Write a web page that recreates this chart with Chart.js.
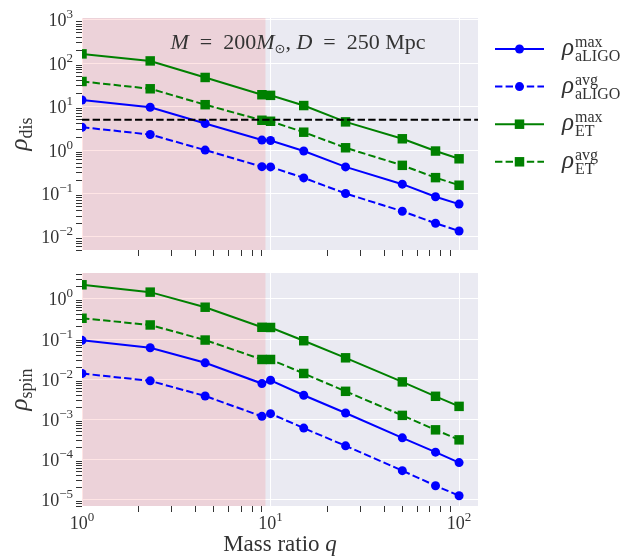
<!DOCTYPE html>
<html>
<head>
<meta charset="utf-8">
<script src="https://cdn.jsdelivr.net/npm/chart.js@4.4.0/dist/chart.umd.min.js"></script>
<style>
  body { margin: 0; background: #fff; }
  .panel { position: absolute; left: 0; }
</style>
</head>
<body>
<div class="panel" style="top:0"><canvas id="disChart" width="638" height="262"></canvas></div>
<div class="panel" style="top:262px"><canvas id="spinChart" width="638" height="297"></canvas></div>
<script>
// mass ratios and SNR values
const massRatio = [1, 2.3, 4.5, 9, 10, 15, 25, 50, 75, 100];

const disMaxLIGO = [14.2, 9.7, 4.1, 1.7, 1.66, 0.95, 0.41, 0.164, 0.084, 0.057];
const disAvgLIGO = [3.36, 2.28, 1.0, 0.415, 0.41, 0.229, 0.1, 0.039, 0.0206, 0.0137];
const disMaxET = [164, 113, 47, 18.8, 18.2, 10.6, 4.46, 1.82, 0.95, 0.63];
const disAvgET = [38, 25.8, 11.1, 4.86, 4.61, 2.58, 1.13, 0.445, 0.232, 0.155];

const spinMaxLIGO = [0.0927, 0.0607, 0.0256, 0.0078, 0.0094, 0.004, 0.00144, 0.000348, 0.000153, 0.0000841];
const spinAvgLIGO = [0.0139, 0.0091, 0.00383, 0.00119, 0.00139, 0.000607, 0.00022, 0.0000531, 0.0000224, 0.0000126];
const spinMaxET = [2.24, 1.47, 0.619, 0.196, 0.194, 0.0908, 0.0341, 0.00858, 0.00376, 0.00211];
const spinAvgET = [0.329, 0.224, 0.0944, 0.031, 0.031, 0.0139, 0.005, 0.00126, 0.00055, 0.00031];

const snrThreshold = 5;
const shadeRange = [1, 9.4];
const xRange = [1, 126];
const disRange = [0.005, 1100];
const spinRange = [7e-6, 4.4];

const legendSup = ['max', 'avg', 'max', 'avg'];
const legendSub = ['aLIGO', 'aLIGO', 'ET', 'ET'];

const SERIF = '"Liberation Serif", "DejaVu Serif", serif';
const TEXT = '#333';
const BLUE = '#0000ff';
const GREEN = '#008000';
const DASH = [7.4, 3.2];

// log ticks 1..9 x 10^k inside the range
function logTicks(min, max) {
  const out = [];
  for (let e = Math.floor(Math.log10(min)); e <= Math.ceil(Math.log10(max)); e++) {
    for (let k = 1; k <= 9; k++) {
      const v = k * Math.pow(10, e);
      if (v >= min * 0.999 && v <= max * 1.001) out.push({value: v});
    }
  }
  return out;
}

function isMajor(v) {
  if (!v) return false;
  const l = Math.log10(v);
  return Math.abs(l - Math.round(l)) < 1e-9;
}

const gridOpts = {
  color: c => isMajor(c.tick && c.tick.value) ? '#ffffff' : 'rgba(0,0,0,0)',
  lineWidth: 1,
  drawTicks: true,
  tickLength: 6,
  tickWidth: 1,
  tickColor: c => isMajor(c.tick && c.tick.value) ? 'rgba(0,0,0,0)' : '#333'
};

// draw a run of text pieces with their own fonts / offsets
function drawRich(ctx, parts, x, y, align) {
  let w = 0;
  parts.forEach(p => {
    ctx.font = p.font;
    p.w = ctx.measureText(p.t).width;
    w += p.w;
  });
  let cx = align === 'right' ? x - w : align === 'center' ? x - w / 2 : x;
  ctx.textAlign = 'left';
  ctx.textBaseline = 'alphabetic';
  parts.forEach(p => {
    ctx.font = p.font;
    ctx.fillText(p.t, cx, y + (p.dy || 0));
    cx += p.w;
  });
}

function powerLabel(e) {
  const exp = e < 0 ? '\u2212' + (-e) : String(e);
  return [
    {t: '10', font: '18px ' + SERIF},
    {t: exp, font: '13px ' + SERIF, dy: -8}
  ];
}

function makeDatasets(maxL, avgL, maxE, avgE) {
  const pts = arr => massRatio.map((q, i) => ({x: q, y: arr[i]}));
  const common = {borderWidth: 2, pointBorderWidth: 0, tension: 0, clip: 0};
  return [
    {...common, data: pts(maxL), borderColor: BLUE, backgroundColor: BLUE, pointStyle: 'circle', pointRadius: 4.5},
    {...common, data: pts(avgL), borderColor: BLUE, backgroundColor: BLUE, pointStyle: 'circle', pointRadius: 4.5, borderDash: DASH},
    {...common, data: pts(maxE), borderColor: GREEN, backgroundColor: GREEN, pointStyle: 'rect', pointRadius: 6.7},
    {...common, data: pts(avgE), borderColor: GREEN, backgroundColor: GREEN, pointStyle: 'rect', pointRadius: 6.7, borderDash: DASH}
  ];
}

function makeOptions(yRange, padTop, xHeight) {
  return {
    responsive: false,
    animation: false,
    devicePixelRatio: 1,
    layout: {padding: {top: padTop, right: 160, left: 0, bottom: 0}},
    plugins: {legend: {display: false}, tooltip: {enabled: false}},
    scales: {
      x: {
        type: 'logarithmic', min: xRange[0], max: xRange[1], bounds: 'data',
        afterBuildTicks: s => { s.ticks = logTicks(xRange[0], xRange[1]); },
        afterFit: s => { s.height = xHeight; },
        ticks: {display: false, autoSkip: false},
        grid: gridOpts,
        border: {display: false}
      },
      y: {
        type: 'logarithmic', min: yRange[0], max: yRange[1], bounds: 'data',
        afterBuildTicks: s => { s.ticks = logTicks(yRange[0], yRange[1]); },
        afterFit: s => { s.width = 82; },
        ticks: {display: false, autoSkip: false},
        grid: gridOpts,
        border: {display: false}
      }
    }
  };
}

// background, shaded band, threshold, custom labels
function panelPlugin(cfg) {
  return {
    id: 'panel_' + cfg.name,
    beforeDraw(chart) {
      const {ctx, chartArea: a} = chart;
      ctx.save();
      ctx.fillStyle = '#EAEAF2';
      ctx.fillRect(a.left, a.top, a.right - a.left, a.bottom - a.top);
      ctx.restore();
    },
    beforeDatasetsDraw(chart) {
      const {ctx, chartArea: a, scales} = chart;
      const x0 = scales.x.getPixelForValue(shadeRange[0]);
      const x1 = scales.x.getPixelForValue(shadeRange[1]);
      ctx.save();
      ctx.fillStyle = 'rgba(255,0,0,0.1)';
      ctx.fillRect(x0, a.top, x1 - x0, a.bottom - a.top);
      ctx.restore();
    },
    afterDatasetsDraw(chart) {
      if (!cfg.threshold) return;
      const {ctx, chartArea: a, scales} = chart;
      const y = scales.y.getPixelForValue(cfg.threshold);
      ctx.save();
      ctx.strokeStyle = '#000';
      ctx.lineWidth = 2;
      ctx.setLineDash(DASH);
      ctx.beginPath();
      ctx.moveTo(a.left, y);
      ctx.lineTo(a.right, y);
      ctx.stroke();
      ctx.restore();
    },
    afterDraw(chart) {
      const {ctx, chartArea: a, scales} = chart;
      ctx.save();
      ctx.fillStyle = TEXT;

      // y tick labels
      const ys = scales.y;
      for (let e = Math.ceil(Math.log10(ys.min)); e <= Math.floor(Math.log10(ys.max) + 1e-9); e++) {
        const py = ys.getPixelForValue(Math.pow(10, e));
        drawRich(ctx, powerLabel(e), 73, py + 6.5, 'right');
      }

      // y axis title
      ctx.save();
      ctx.translate(27, (a.top + a.bottom) / 2);
      ctx.rotate(-Math.PI / 2);
      drawRich(ctx, [
        {t: '\u03c1', font: 'italic 25px ' + SERIF},
        {t: cfg.ylabel, font: '18px ' + SERIF, dy: 5}
      ], 0, 0, 'center');
      ctx.restore();

      if (cfg.xlabels) {
        const xs = scales.x;
        for (let e = 0; e <= 2; e++) {
          const px = xs.getPixelForValue(Math.pow(10, e));
          drawRich(ctx, powerLabel(e), px, a.bottom + 23, 'center');
        }
        drawRich(ctx, [
          {t: 'Mass ratio ', font: '23px ' + SERIF},
          {t: 'q', font: 'italic 23px ' + SERIF}
        ], (a.left + a.right) / 2, a.bottom + 45, 'center');
      }

      if (cfg.title) {
        const f = '22px ' + SERIF, fi = 'italic 22px ' + SERIF;
        drawRich(ctx, [
          {t: 'M', font: fi},
          {t: '\u2002=\u2002200', font: f},
          {t: 'M', font: fi},
          {t: '\u2299', font: '13px "DejaVu Sans", sans-serif', dy: 4},
          {t: ', ', font: f},
          {t: 'D', font: fi},
          {t: '\u2002=\u2002250 Mpc', font: f}
        ], 298, 49, 'center');
      }

      if (cfg.legend) drawLegend(ctx, chart);
      ctx.restore();
    }
  };
}

function drawLegend(ctx, chart) {
  chart.data.datasets.forEach((ds, i) => {
    const y = 49 + i * 37.6;
    ctx.save();
    ctx.strokeStyle = ds.borderColor;
    ctx.fillStyle = ds.backgroundColor;
    ctx.lineWidth = 2;
    ctx.setLineDash(ds.borderDash || []);
    ctx.beginPath();
    ctx.moveTo(495, y);
    ctx.lineTo(544, y);
    ctx.stroke();
    if (ds.pointStyle === 'rect') {
      const s = ds.pointRadius * Math.SQRT2;
      ctx.fillRect(519.5 - s / 2, y - s / 2, s, s);
    } else {
      ctx.beginPath();
      ctx.arc(519.5, y, ds.pointRadius, 0, Math.PI * 2);
      ctx.fill();
    }
    ctx.restore();

    ctx.fillStyle = TEXT;
    ctx.textAlign = 'left';
    ctx.textBaseline = 'alphabetic';
    ctx.font = 'italic 25px ' + SERIF;
    ctx.fillText('\u03c1', 562, y + 6);
    const rw = ctx.measureText('\u03c1').width;
    ctx.font = '16px ' + SERIF;
    ctx.fillText(legendSup[i], 563 + rw, y - 2);
    ctx.fillText(legendSub[i], 563 + rw, y + 12);
  });
}

new Chart(document.getElementById('disChart'), {
  type: 'line',
  data: {datasets: makeDatasets(disMaxLIGO, disAvgLIGO, disMaxET, disAvgET)},
  options: makeOptions(disRange, 18, 12),
  plugins: [panelPlugin({name: 'dis', ylabel: 'dis', threshold: snrThreshold, title: true, legend: true})]
});

new Chart(document.getElementById('spinChart'), {
  type: 'line',
  data: {datasets: makeDatasets(spinMaxLIGO, spinAvgLIGO, spinMaxET, spinAvgET)},
  options: makeOptions(spinRange, 11, 53),
  plugins: [panelPlugin({name: 'spin', ylabel: 'spin', xlabels: true})]
});
</script>
</body>
</html>
